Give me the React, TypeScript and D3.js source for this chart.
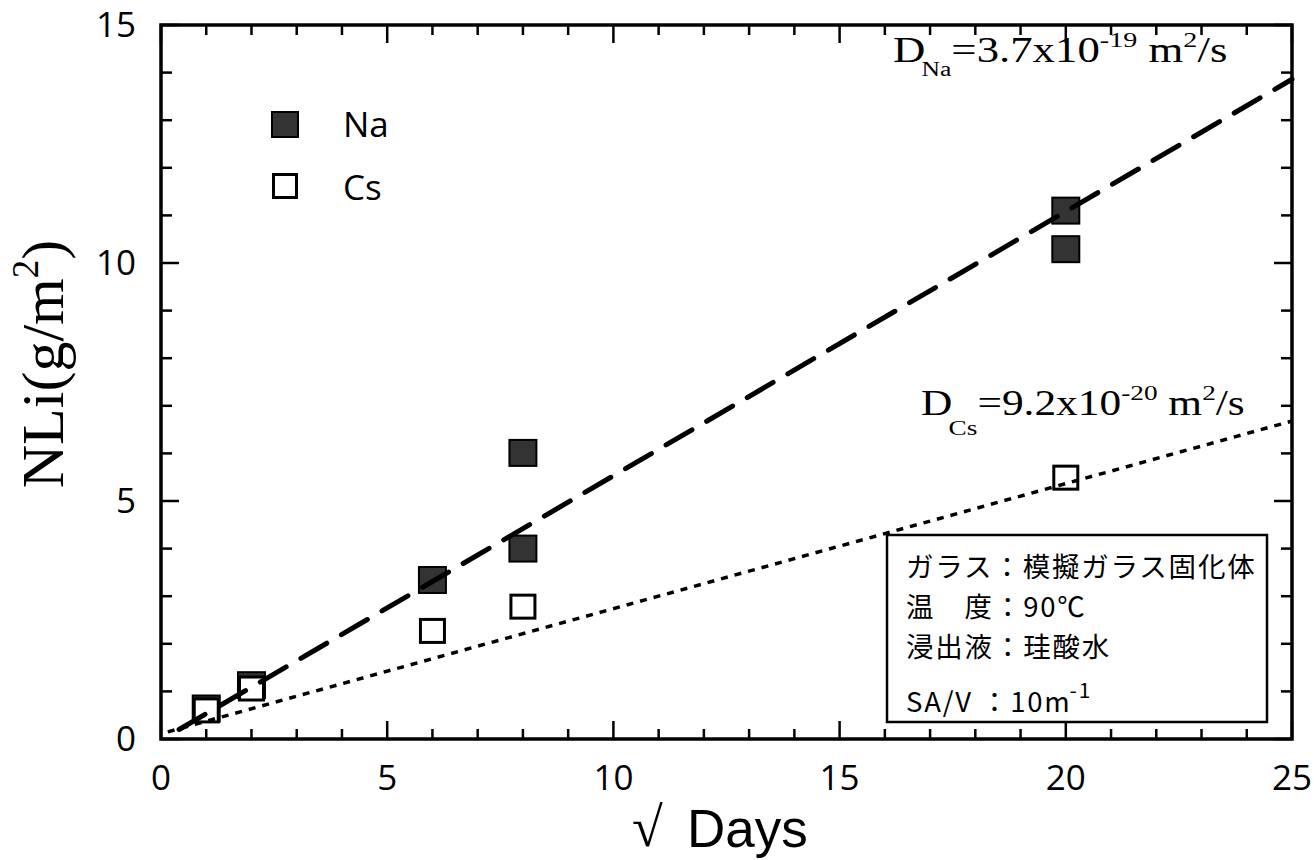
import React from "react";
import * as d3 from "d3";

const naX = [1, 2, 6, 8, 8, 20, 20];
const naY = [0.63, 1.12, 3.33, 6.0, 3.99, 11.09, 10.28];
const csX = [1, 2, 6, 8, 20];
const csY = [0.59, 1.05, 2.26, 2.77, 5.48];
const naFitX = [0.4, 25];
const naFitY = [0.2, 13.86];
const csFitX = [0.15, 25];
const csFitY = [0.15, 6.68];
const xTickLabels = [0, 5, 10, 15, 20, 25];
const yTickLabels = [0, 5, 10, 15];
const boxLines = ["ガラス：模擬ガラス固化体", "温　度：90℃", "浸出液：珪酸水"];

const W = 1314, H = 860;
const L = 161, R = 1292, T = 25, B = 739;

export default function App() {
  const x = d3.scaleLinear().domain([0, 25]).range([L, R]);
  const y = d3.scaleLinear().domain([0, 15]).range([B, T]);
  const line = d3.line<[number, number]>().x(d => x(d[0])).y(d => y(d[1]));
  const naFit = line(naFitX.map((v, i) => [v, naFitY[i]] as [number, number])) || "";
  const csFit = line(csFitX.map((v, i) => [v, csFitY[i]] as [number, number])) || "";
  const xt = d3.range(0, 26);
  const yt = d3.range(0, 16);
  const sq = 27;
  const tickFont = "'Open Sans', 'Noto Sans', sans-serif";
  const serif = "'Liberation Serif', 'Times New Roman', serif";
  const cjk = "'Noto Sans CJK JP', sans-serif";
  return (
    <svg width={W} height={H} style={{ position: "absolute", left: 0, top: 0, background: "#fff" }}>
      <rect x={0} y={0} width={W} height={H} fill="#fff" />
      {xt.map(t => {
        const len = t % 5 === 0 ? 18 : 10;
        return (
          <g key={"xt" + t} stroke="#000" strokeWidth={2.5}>
            <line x1={x(t)} x2={x(t)} y1={B} y2={B - len} />
            <line x1={x(t)} x2={x(t)} y1={T} y2={T + len} />
          </g>
        );
      })}
      {yt.map(t => {
        const len = t % 5 === 0 ? 18 : 11;
        return (
          <g key={"yt" + t} stroke="#000" strokeWidth={2.5}>
            <line x1={L} x2={L + len} y1={y(t)} y2={y(t)} />
            <line x1={R} x2={R - len} y1={y(t)} y2={y(t)} />
          </g>
        );
      })}
      <rect x={L} y={T} width={R - L} height={B - T} fill="none" stroke="#000" strokeWidth={3.5} />
      {xTickLabels.map(t => (
        <text key={"xl" + t} x={x(t)} y={790} textAnchor="middle" fontFamily={tickFont} fontSize={35} fill="#000">{t}</text>
      ))}
      {yTickLabels.map(t => (
        <text key={"yl" + t} x={136} y={y(t) + 12} textAnchor="end" fontFamily={tickFont} fontSize={35} fill="#000">{t}</text>
      ))}
      <text transform="translate(63,364) rotate(-90)" textAnchor="middle" fontFamily={serif} fontSize={60} fill="#000">
        NLi(g/m<tspan fontSize={37} dy={-25}>2</tspan><tspan dy={25}>)</tspan>
      </text>
      <text x={632} y={846} fontFamily={serif} fontSize={56} fill="#000">√</text>
      <text x={687} y={847} fontFamily="'Liberation Sans', Arial, sans-serif" fontSize={53} fill="#000">Days</text>
      {naX.map((v, i) => (
        <rect key={"na" + i} x={x(v) - sq / 2} y={y(naY[i]) - sq / 2} width={sq} height={sq - 1} fill="#333" stroke="#000" strokeWidth={2} />
      ))}
      {csX.map((v, i) => (
        <rect key={"cs" + i} x={x(v) - sq / 2 + 1.5} y={y(csY[i]) - sq / 2 + 1.5} width={sq - 3} height={sq - 4} fill="#fff" stroke="#000" strokeWidth={3} />
      ))}
      <path d={naFit} fill="none" stroke="#000" strokeWidth={5} strokeDasharray="30 17" strokeLinecap="round" />
      <path d={csFit} fill="none" stroke="#000" strokeWidth={3.5} strokeDasharray="7 7" />
      <rect x={272} y={112} width={26} height={25} fill="#333" stroke="#000" strokeWidth={2} />
      <text x={343} y={137} fontFamily={tickFont} fontSize={35} fill="#000">Na</text>
      <rect x={273.5} y={174.5} width={23} height={23} fill="#fff" stroke="#000" strokeWidth={3} />
      <text x={343} y={200} fontFamily={tickFont} fontSize={35} fill="#000">Cs</text>
      <g transform="translate(893,62) scale(1.28,1)">
        <text x={0} y={0} fontFamily={serif} fontSize={35} fill="#000">
          D<tspan fontSize={20} dy={14} dx={-3}>Na</tspan>
          <tspan dy={-14}>=3.7x10</tspan>
          <tspan fontSize={22} dy={-15}>-19</tspan>
          <tspan dy={15}>{"\u00a0m"}</tspan>
          <tspan fontSize={22} dy={-15}>2</tspan>
          <tspan dy={15}>/s</tspan>
        </text>
      </g>
      <g transform="translate(921,415) scale(1.24,1)">
        <text x={0} y={0} fontFamily={serif} fontSize={35} fill="#000">
          D<tspan fontSize={22} dy={20} dx={-3}>Cs</tspan>
          <tspan dy={-20}>=9.2x10</tspan>
          <tspan fontSize={22} dy={-15}>-20</tspan>
          <tspan dy={15}>{"\u00a0m"}</tspan>
          <tspan fontSize={22} dy={-15}>2</tspan>
          <tspan dy={15}>/s</tspan>
        </text>
      </g>
      <rect x={887} y={535} width={380} height={187} fill="#fff" stroke="#000" strokeWidth={2.5} />
      {boxLines.map((s, i) => (
        <text key={"bl" + i} x={906} y={[577, 617, 657][i]} fontFamily={cjk} fontSize={27.5} letterSpacing={1.8} fill="#000">{s}</text>
      ))}
      <text x={906} y={712} fontFamily={cjk} fontSize={27.5} letterSpacing={1.8} fill="#000">
        SA/V ：10m<tspan fontSize={21} dy={-14} dx={-2}>-1</tspan>
      </text>
    </svg>
  );
}
